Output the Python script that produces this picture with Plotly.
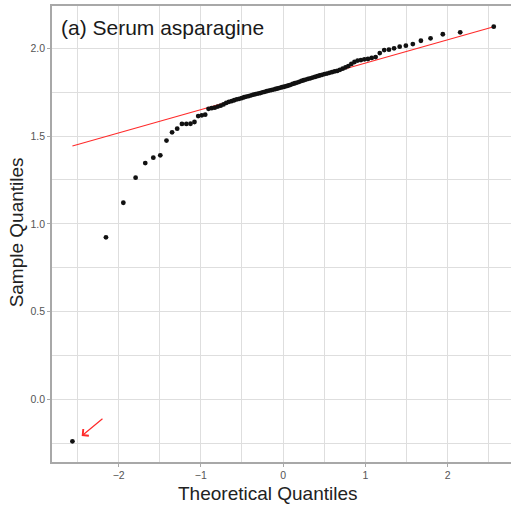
import numpy as np
import plotly.graph_objects as go
from statistics import NormalDist

# Sorted sample values (serum asparagine)
sample_values = [
    -0.239, 0.923, 1.120, 1.263, 1.346, 1.377, 1.390, 1.474, 1.521, 1.542,
    1.569, 1.569, 1.570, 1.580, 1.614, 1.618, 1.622, 1.655, 1.659, 1.662,
    1.668, 1.673, 1.680, 1.689, 1.695, 1.699, 1.704, 1.709, 1.712, 1.716,
    1.721, 1.725, 1.728, 1.732, 1.736, 1.739, 1.742, 1.745, 1.749, 1.752,
    1.756, 1.759, 1.762, 1.765, 1.768, 1.771, 1.775, 1.778, 1.781, 1.784,
    1.788, 1.792, 1.797, 1.801, 1.805, 1.809, 1.814, 1.818, 1.822, 1.826,
    1.829, 1.833, 1.837, 1.841, 1.845, 1.849, 1.853, 1.856, 1.860, 1.864,
    1.868, 1.871, 1.8775, 1.884, 1.891, 1.899, 1.911, 1.922, 1.930, 1.933,
    1.937, 1.939, 1.945, 1.950, 1.973, 1.990, 1.992, 2.000, 2.009, 2.015,
    2.024, 2.043, 2.057, 2.080, 2.091, 2.123,
]

x_tick_vals = [-2, -1, 0, 1, 2]
y_tick_vals = [0.0, 0.5, 1.0, 1.5, 2.0]
title_text = "(a) Serum asparagine"
x_title = "Theoretical Quantiles"
y_title = "Sample Quantiles"
# outlier arrow: tail and head in data units
arrow_tail = (-2.178, -0.103)
arrow_head = (-2.449, -0.209)

# Theoretical quantiles as in R's qqnorm (ppoints, a = 1/2 for n > 10)
y = np.array(sorted(sample_values))
n = len(y)
nd = NormalDist()
theo = np.array([nd.inv_cdf((i - 0.5) / n) for i in range(1, n + 1)])

# qqline through the quartiles
q1, q3 = np.percentile(y, [25, 75])
t1, t3 = nd.inv_cdf(0.25), nd.inv_cdf(0.75)
slope = (q3 - q1) / (t3 - t1)
intercept = q1 - slope * t1
line_x = np.array([theo.min(), theo.max()])
line_y = intercept + slope * line_x

fig = go.Figure()
fig.add_trace(go.Scatter(
    x=line_x, y=line_y, mode="lines",
    line=dict(color="#ff2a2a", width=1.1), hoverinfo="skip", showlegend=False,
))
fig.add_trace(go.Scatter(
    x=theo, y=y, mode="markers",
    marker=dict(color="#111111", size=4.8), showlegend=False,
))

grid_col = "#dedede"
axis_col = "#a8a8a8"
font_fam = "Liberation Sans, Arial, sans-serif"

fig.update_layout(
    width=511, height=508,
    margin=dict(l=52, r=0, t=6, b=46),
    paper_bgcolor="white", plot_bgcolor="white",
    font=dict(family=font_fam),
    xaxis=dict(
        range=[-2.81, 2.7716], tickvals=x_tick_vals,
        showgrid=True, gridcolor=grid_col, gridwidth=1,
        minor=dict(dtick=0.5, tick0=-2.5, showgrid=True, gridcolor=grid_col, gridwidth=1),
        showline=True, linecolor=axis_col, linewidth=1.5, mirror=True,
        ticks="outside", ticklen=3, tickcolor=axis_col, tickwidth=1,
        tickfont=dict(size=10.5, color="#555555"), zeroline=False,
    ),
    yaxis=dict(
        range=[-0.357, 2.241], tickvals=y_tick_vals, tickformat=".1f",
        showgrid=True, gridcolor=grid_col, gridwidth=1,
        minor=dict(dtick=0.5, tick0=-0.25, showgrid=True, gridcolor=grid_col, gridwidth=1),
        showline=True, linecolor=axis_col, linewidth=1.5, mirror=False,
        ticks="outside", ticklen=3, tickcolor=axis_col, tickwidth=1,
        tickfont=dict(size=10.5, color="#555555"), zeroline=False,
    ),
    annotations=[
        dict(text=title_text, xref="paper", yref="paper", x=0.015, y=0.952,
             xanchor="left", yanchor="middle", showarrow=False,
             font=dict(size=21, color="#1a1a1a", family=font_fam)),
        dict(text=x_title, xref="paper", yref="paper", x=(268 - 52) / 459, y=-0.068,
             xanchor="center", yanchor="middle", showarrow=False,
             font=dict(size=19, color="#222222", family=font_fam)),
        dict(text=y_title, xref="paper", yref="paper", x=-0.078, y=0.504,
             xanchor="center", yanchor="middle", showarrow=False, textangle=-90,
             font=dict(size=19, color="#222222", family=font_fam)),
        dict(x=arrow_head[0], y=arrow_head[1], xref="x", yref="y",
             ax=arrow_tail[0], ay=arrow_tail[1], axref="x", ayref="y",
             text="", showarrow=True, arrowhead=4, arrowsize=1.4,
             arrowwidth=1.2, arrowcolor="#ff2a2a"),
    ],
)

fig.write_html("out.html")
